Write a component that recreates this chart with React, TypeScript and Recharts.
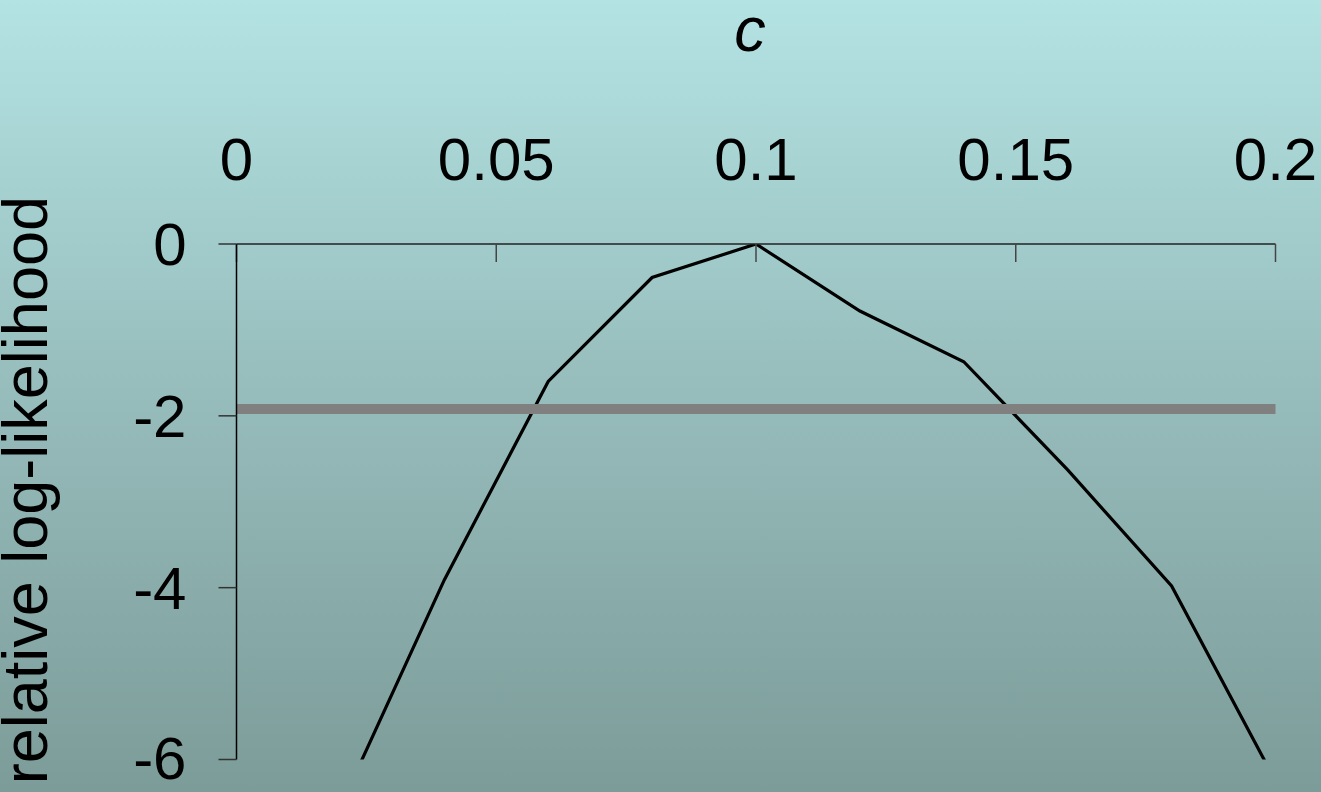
import React from 'react';
import { LineChart, Line, XAxis, YAxis, ReferenceLine } from 'recharts';

// Profile log-likelihood over the parameter c
const cValues = [0.02, 0.04, 0.06, 0.08, 0.1, 0.12, 0.14, 0.16, 0.18, 0.2];
const logLik = [-6.55, -3.91, -1.6, -0.39, 0, -0.78, -1.37, -2.63, -3.98, -6.25];
const xTicks = [0, 0.05, 0.1, 0.15, 0.2];
const yTicks = [0, -2, -4, -6];
const cutoff = -1.92;

const data = cValues.map((c, i) => ({ c, ll: logLik[i] }));

const FONT = '"Liberation Sans", Arial, Helvetica, sans-serif';
const tickStyle = { fontSize: 60, fill: '#000', fontFamily: FONT };

const YTitle = () => (
  <text
    transform="translate(47,196) rotate(-90)"
    textAnchor="end"
    fontSize={63}
    fontFamily={FONT}
    fill="#000"
  >
    relative log-likelihood
  </text>
);

export default function App() {
  return (
    <div
      style={{
        position: 'absolute',
        left: 0,
        top: 0,
        width: 1321,
        height: 792,
        overflow: 'hidden',
        background: 'linear-gradient(to bottom, #b4e3e4 0%, #96bcbb 50%, #7c9c99 100%)',
      }}
    >
      <LineChart
        width={1321}
        height={792}
        data={data}
        margin={{ top: 0, right: 45.5, bottom: 32.5, left: 0 }}
      >
        <XAxis
          dataKey="c"
          type="number"
          orientation="top"
          domain={[0, 0.2]}
          ticks={xTicks}
          height={244}
          tickSize={-18}
          tickMargin={82}
          tick={tickStyle}
          axisLine={{ stroke: '#222', strokeWidth: 1.5 }}
          tickLine={{ stroke: '#444', strokeWidth: 1.5 }}
          label={{
            value: 'c',
            position: 'insideTop',
            offset: 6,
            dx: -6,
            fontSize: 63,
            fontStyle: 'italic',
            fontFamily: FONT,
            fill: '#000',
          }}
        />
        <YAxis
          type="number"
          domain={[-6, 0]}
          ticks={yTicks}
          allowDataOverflow
          width={236.5}
          tickSize={18}
          tickMargin={32}
          tick={tickStyle}
          axisLine={{ stroke: '#000', strokeWidth: 1.5 }}
          tickLine={{ stroke: '#333', strokeWidth: 1.5 }}
          label={{ content: () => <YTitle /> }}
        />
        <Line
          type="linear"
          dataKey="ll"
          stroke="#000"
          strokeWidth={3.2}
          dot={false}
          isAnimationActive={false}
        />
        <ReferenceLine y={cutoff} stroke="#808080" strokeWidth={10} />
      </LineChart>
    </div>
  );
}
